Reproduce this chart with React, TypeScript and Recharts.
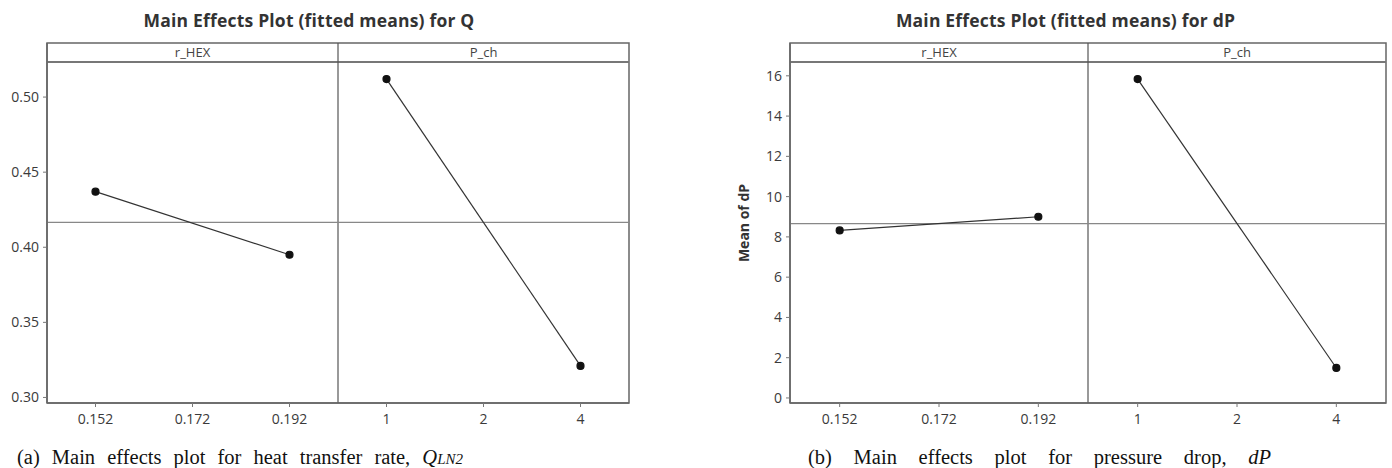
import {
  Line,
  LineChart,
  ReferenceArea,
  ReferenceLine,
  XAxis,
  YAxis,
} from "recharts";

const rHexLevels = ["0.152", "0.172", "0.192"];
const pChLevels = ["1", "2", "4"];

// fitted means for Q (middle level has no point)
const qRHex = [0.437, null, 0.395];
const qPCh = [0.512, null, 0.321];
const qMean = 0.4165;
const qTicks = [0.3, 0.35, 0.4, 0.45, 0.5];

// fitted means for dP
const dpRHex = [8.32, null, 9.0];
const dpPCh = [15.84, null, 1.49];
const dpMean = 8.66;
const dpTicks = [0, 2, 4, 6, 8, 10, 12, 14, 16];

const xLabels = [...rHexLevels, ...pChLevels];

function buildRows(rHex: (number | null)[], pCh: (number | null)[]) {
  return xLabels.map((label, i) => ({
    x: i,
    label,
    rHex: i < 3 ? rHex[i] : null,
    pCh: i >= 3 ? pCh[i - 3] : null,
  }));
}

const SANS = "'Open Sans', 'DejaVu Sans', sans-serif";
const FRAME = "#666";

type PanelProps = {
  rows: ReturnType<typeof buildRows>;
  domain: [number, number];
  headerY: number;
  ticks: number[];
  mean: number;
  fmt: (v: number) => string;
  width: number;
  height: number;
  margin: { top: number; right: number; bottom: number; left: number };
  yLabel?: string;
};

function MainEffects(p: PanelProps) {
  const tick = { fill: "#3a3a3a", fontSize: 14, fontFamily: SANS };
  return (
    <LineChart width={p.width} height={p.height} data={p.rows} margin={p.margin}>
      <XAxis
        type="number"
        dataKey="x"
        domain={[-0.5, 5.5]}
        ticks={[0, 1, 2, 3, 4, 5]}
        tickFormatter={(v: number) => xLabels[v]}
        tick={tick}
        tickSize={4}
        tickMargin={7}
        height={27}
        stroke={FRAME}
        strokeWidth={1.5}
        tickLine={{ stroke: "#777", strokeWidth: 1 }}
      />
      <YAxis
        type="number"
        domain={p.domain}
        ticks={p.ticks}
        tickFormatter={p.fmt}
        tick={tick}
        tickSize={4}
        tickMargin={4}
        width={40}
        stroke={FRAME}
        strokeWidth={1.5}
        tickLine={{ stroke: "#777", strokeWidth: 1 }}
        label={
          p.yLabel
            ? {
                value: p.yLabel,
                angle: -90,
                position: "left",
                offset: 6,
                fill: "#333",
                fontSize: 14,
                fontWeight: 700,
                fontFamily: SANS,
                style: { textAnchor: "middle" },
              }
            : undefined
        }
      />
      <ReferenceArea
        x1={-0.5}
        x2={5.5}
        y1={p.domain[0]}
        y2={p.domain[1]}
        fill="none"
        stroke={FRAME}
        strokeWidth={1.5}
      />
      <ReferenceArea
        x1={-0.5}
        x2={2.5}
        y1={p.headerY}
        y2={p.domain[1]}
        fill="none"
        strokeOpacity={0}
        label={{ value: "r_HEX", position: "center", fill: "#444", fontSize: 13, fontFamily: SANS }}
      />
      <ReferenceArea
        x1={2.5}
        x2={5.5}
        y1={p.headerY}
        y2={p.domain[1]}
        fill="none"
        strokeOpacity={0}
        label={{ value: "P_ch", position: "center", fill: "#444", fontSize: 13, fontFamily: SANS }}
      />
      <ReferenceLine y={p.headerY} stroke="#777" strokeWidth={2} />
      <ReferenceLine x={2.5} stroke="#555" strokeWidth={1.2} />
      <ReferenceLine y={p.mean} stroke="#888" strokeWidth={1.2} />
      <Line
        dataKey="rHex"
        stroke="#333"
        strokeWidth={1.2}
        connectNulls
        dot={{ r: 3.5, fill: "#111", stroke: "#111" }}
        isAnimationActive={false}
      />
      <Line
        dataKey="pCh"
        stroke="#333"
        strokeWidth={1.2}
        connectNulls
        dot={{ r: 3.5, fill: "#111", stroke: "#111" }}
        isAnimationActive={false}
      />
    </LineChart>
  );
}

const titleStyle: React.CSSProperties = {
  position: "absolute",
  fontFamily: SANS,
  fontWeight: 700,
  fontSize: 17.5,
  letterSpacing: 0.2,
  color: "#333",
  whiteSpace: "nowrap",
  lineHeight: "22px",
};

const captionStyle: React.CSSProperties = {
  position: "absolute",
  fontFamily: "'Liberation Serif', 'Times New Roman', serif",
  fontSize: 20.5,
  color: "#111",
  lineHeight: "22px",
  textAlign: "justify",
  textAlignLast: "justify",
  whiteSpace: "normal",
};

export default function App() {
  return (
    <div
      style={{
        position: "absolute",
        left: 0,
        top: 0,
        width: 1392,
        height: 468,
        background: "#fff",
        overflow: "hidden",
      }}
    >
      <div style={{ ...titleStyle, left: 128, top: 9, width: 362, textAlign: "center" }}>
        Main Effects Plot (fitted means) for Q
      </div>
      <div style={{ position: "absolute", left: 0, top: 0 }}>
        <MainEffects
          rows={buildRows(qRHex, qPCh)}
          domain={[0.2963, 0.536]}
          headerY={0.5233}
          ticks={qTicks}
          mean={qMean}
          fmt={(v) => v.toFixed(2)}
          width={640}
          height={430}
          margin={{ top: 43, right: 11, bottom: 0, left: 7 }}
        />
      </div>
      <div style={{ ...captionStyle, left: 17, top: 446, width: 446 }}>
        (a) Main effects plot for heat transfer rate,{" "}
        <i>
          Q<span style={{ fontSize: 15 }}>LN2</span>
        </i>
      </div>

      <div style={{ ...titleStyle, left: 880, top: 9, width: 371, textAlign: "center" }}>
        Main Effects Plot (fitted means) for dP
      </div>
      <div style={{ position: "absolute", left: 700, top: 0 }}>
        <MainEffects
          rows={buildRows(dpRHex, dpPCh)}
          domain={[-0.25, 17.63]}
          headerY={16.69}
          ticks={dpTicks}
          mean={dpMean}
          fmt={(v) => String(v)}
          width={692}
          height={430}
          margin={{ top: 43, right: 6, bottom: 0, left: 50 }}
          yLabel="Mean of dP"
        />
      </div>
      <div style={{ ...captionStyle, left: 808, top: 446, width: 463 }}>
        (b) Main effects plot for pressure drop, <i>dP</i>
      </div>
    </div>
  );
}
